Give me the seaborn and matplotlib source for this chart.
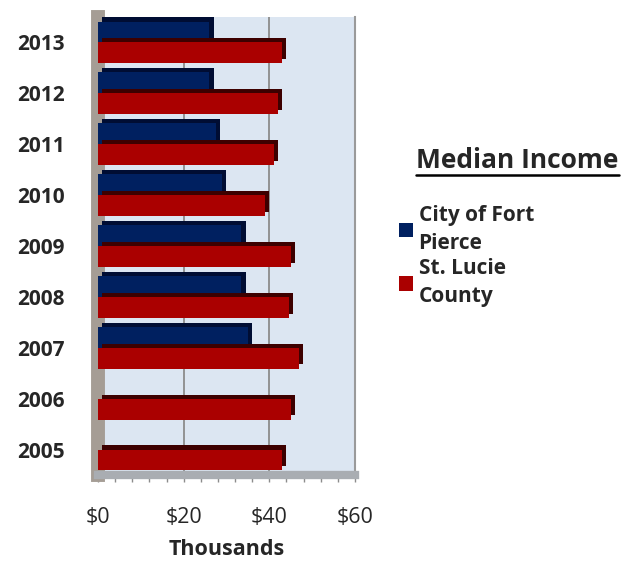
import numpy as np
import matplotlib
matplotlib.use("Agg")
import matplotlib.pyplot as plt
import matplotlib.patheffects as pe
from matplotlib.lines import Line2D
from matplotlib.patches import Patch
import pandas as pd
import seaborn as sns

years = ["2013", "2012", "2011", "2010", "2009", "2008", "2007", "2006", "2005"]
fort_pierce = [26, 26, 27.5, 29, 33.5, 33.5, 35, 0, 0]
st_lucie = [43, 42, 41, 39, 45, 44.5, 47, 45, 43]
series = ["City of Fort Pierce", "St. Lucie County"]
legend_labels = ["City of Fort\nPierce", "St. Lucie\nCounty"]
x_ticks = [0, 20, 40, 60]
x_ticklabels = ["$0", "$20", "$40", "$60"]

colors = ["#002060", "#aa0000"]
dark = ["#000d33", "#3d0000"]

df = pd.DataFrame({
    "year": years * 2,
    "value": fort_pierce + st_lucie,
    "series": [series[0]] * len(years) + [series[1]] * len(years),
})

sns.set_style("white")
plt.rcParams["font.family"] = ["Open Sans", "DejaVu Sans"]

fig = plt.figure(figsize=(6.36, 5.63), dpi=100)
ax = fig.add_axes([98 / 636, 88 / 563, 257 / 636, 458 / 563])

sns.barplot(data=df, y="year", x="value", hue="series", order=years,
            hue_order=series, palette=colors, orient="h", width=0.82,
            saturation=1, legend=False, ax=ax)

# fake 3D depth with an offset shadow per series
for container, shade in zip(ax.containers, dark):
    for bar in container:
        bar.set_edgecolor("none")
        bar.set_zorder(3)
        bar.set_path_effects([
            pe.SimplePatchShadow(offset=(3, 3), shadow_rgbFace=shade, alpha=1),
            pe.Normal(),
        ])

ax.set_facecolor("#dce6f2")
ax.set_xlim(0, 60)
ax.set_xticks(x_ticks)
ax.set_xticklabels(x_ticklabels, fontsize=15.5)
ax.set_xticks(np.arange(0, 61, 4), minor=True)
ax.tick_params(axis="x", which="both", direction="out", length=5, width=1,
               color="#8c8c8c", bottom=True, pad=18)
ax.tick_params(axis="y", length=0, pad=24)
for lab in ax.get_yticklabels():
    lab.set_fontweight("bold")
    lab.set_fontsize(15)

ax.grid(axis="x", color="#8c8c8c", linewidth=1.3)
ax.set_axisbelow(True)
ax.spines["left"].set_color("#a59d95")
ax.spines["left"].set_linewidth(10)
ax.spines["left"].set_zorder(1)
ax.spines["bottom"].set_color("#a9adb2")
ax.spines["bottom"].set_linewidth(6)
ax.spines["right"].set_color("#9a9a9a")
ax.spines["right"].set_linewidth(1.5)
ax.spines["top"].set_visible(False)

ax.set_ylabel("")
ax.set_xlabel("Thousands", fontsize=15.5, fontweight="bold", labelpad=8)

# legend with an underlined heading
fig.text(517 / 636, 1 - 160 / 563, "Median Income", fontsize=19,
         fontweight="bold", ha="center", va="center")
fig.add_artist(Line2D([416 / 636, 619 / 636], [1 - 175 / 563, 1 - 175 / 563],
                      color="black", linewidth=1.8))

handles = [Patch(facecolor=c, edgecolor="none") for c in colors]
leg = fig.legend(handles, legend_labels, loc="upper left",
                 bbox_to_anchor=(380 / 636, 1 - 186 / 563), frameon=False,
                 prop={"weight": "bold", "size": 15}, handlelength=0.7,
                 handleheight=0.7, handletextpad=0.25, labelspacing=0.2)
for t in leg.get_texts():
    t.set_linespacing(1.45)

fig.savefig("out.png", dpi=100)
